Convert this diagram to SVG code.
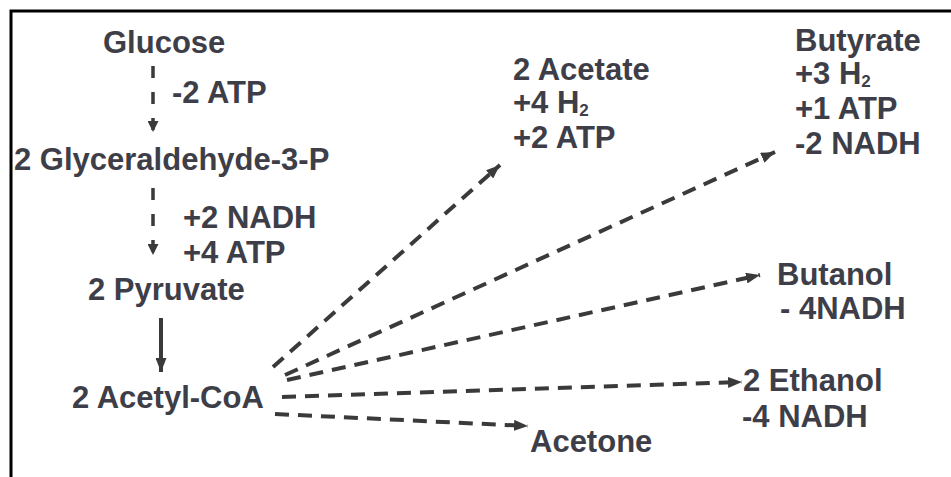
<svg xmlns="http://www.w3.org/2000/svg" width="951" height="477" viewBox="0 0 951 477">
<defs>
<style>
text{font-family:"Liberation Sans",Arial,sans-serif;font-weight:bold;font-size:31px;fill:#3e3e48}
.sub{font-size:17px}
.c{fill:none;stroke:#3a3a3a;stroke-width:4}
.d{stroke-dasharray:14 9}
.v{stroke-dasharray:12 14;stroke-width:3.5}
</style>
<marker id="ah" viewBox="0 0 14 11" refX="14" refY="5.5" markerWidth="14" markerHeight="11" markerUnits="userSpaceOnUse" orient="auto">
<path d="M0,0 L14,5.5 L0,11 z" fill="#3a3a3a"/>
</marker>
<marker id="ahs" viewBox="0 0 11 11" refX="11" refY="5.5" markerWidth="11" markerHeight="11" markerUnits="userSpaceOnUse" orient="auto">
<path d="M0,0 L11,5.5 L0,11 z" fill="#3a3a3a"/>
</marker>
</defs>
<rect width="951" height="477" fill="#ffffff"/>
<path d="M11 477 V11 H951" fill="none" stroke="#000" stroke-width="3"/>
<g id="connectors">
<path class="c v" d="M153 66 V132" marker-end="url(#ahs)"/>
<path class="c v" d="M153 188 V255" marker-end="url(#ahs)"/>
<path class="c" d="M161 318 V372" marker-end="url(#ah)"/>
<path class="c d" d="M273 367 L500 165" marker-end="url(#ah)"/>
<path class="c d" d="M285 375 L775 152" marker-end="url(#ah)"/>
<path class="c d" d="M287 380 L760 275" marker-end="url(#ah)"/>
<path class="c d" d="M282 397 L742 382" marker-end="url(#ah)"/>
<path class="c d" d="M275 414 L528 426" marker-end="url(#ah)"/>
</g>
<g id="glucose"><text x="103" y="53">Glucose</text></g>
<g id="step1"><text x="172" y="103">-2 ATP</text></g>
<g id="g3p"><text x="14" y="170">2 Glyceraldehyde-3-P</text></g>
<g id="step2"><text x="183" y="228">+2 NADH</text><text x="183" y="263">+4 ATP</text></g>
<g id="pyruvate"><text x="88" y="300">2 Pyruvate</text></g>
<g id="acetylcoa"><text x="72" y="408">2 Acetyl-CoA</text></g>
<g id="acetate"><text x="513" y="80">2 Acetate</text><text x="513" y="113">+4 H<tspan class="sub" dy="3">2</tspan></text><text x="513" y="148">+2 ATP</text></g>
<g id="butyrate"><text x="795" y="51">Butyrate</text><text x="795" y="84">+3 H<tspan class="sub" dy="3">2</tspan></text><text x="795" y="119">+1 ATP</text><text x="795" y="154">-2 NADH</text></g>
<g id="butanol"><text x="777" y="285">Butanol</text><text x="780" y="319">- 4NADH</text></g>
<g id="ethanol"><text x="743" y="391">2 Ethanol</text><text x="742" y="427">-4 NADH</text></g>
<g id="acetone"><text x="530" y="452">Acetone</text></g>
</svg>
